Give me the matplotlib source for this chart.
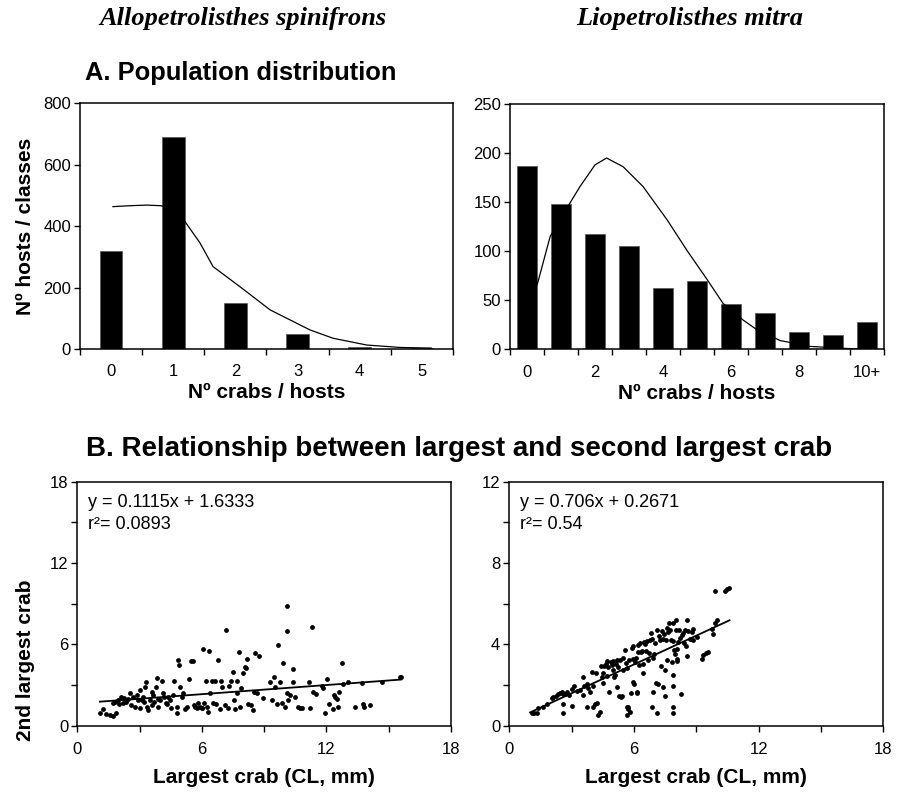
import matplotlib
matplotlib.use('Agg')
import matplotlib.pyplot as plt
import numpy as np

plt.rcParams['font.family'] = ['Liberation Sans', 'DejaVu Sans']

# ---- A. population distribution ----
allo_classes = ['0', '1', '2', '3', '4', '5']
allo_counts = [320, 690, 150, 50, 8, 3]
allo_fit_x = [0.03, 0.3, 0.58, 0.8, 1.0, 1.19, 1.43, 1.64, 2.07, 2.56, 3.2, 3.57, 4.11, 4.65, 5.15]
allo_fit_y = [463, 466, 468, 466, 455, 414, 345, 268, 203, 127, 62, 35, 13, 5, 3]

lio_classes = ['0', '1', '2', '3', '4', '5', '6', '7', '8', '9', '10+']
lio_counts = [187, 148, 118, 105, 63, 70, 46, 37, 18, 15, 28]
lio_fit_x = [0.0, 0.3, 0.68, 1.26, 1.56, 2.0, 2.34, 2.83, 3.41, 4.12, 4.7, 5.3, 5.76, 6.35, 6.76, 7.44, 8.3, 9.6, 10.0]
lio_fit_y = [55, 66, 115, 149, 166, 188, 195, 186, 166, 132, 101, 71, 47, 30, 20, 9, 3, 0.5, 0.3]

# ---- B. largest vs 2nd largest crab ----
allo_largest = [1.09, 1.25, 1.38, 1.57, 1.73, 1.86, 1.73, 1.81, 1.97, 2.09, 2.18, 2.25, 2.34, 2.46, 2.54,
                2.70, 2.86, 2.94, 3.02, 3.18, 3.21, 3.26, 3.31, 3.34, 3.42, 3.50, 3.58, 3.66, 3.69, 3.79,
                3.82, 3.90, 3.98, 4.06, 4.11, 4.17, 4.27, 4.38, 4.46, 4.62, 4.66, 4.78, 4.82, 4.87, 4.88,
                4.95, 5.03, 5.11, 5.27, 5.39, 5.46, 5.59, 5.67, 5.75, 5.83, 5.91, 5.99, 6.04, 6.10, 6.20,
                6.26, 6.31, 6.36, 6.39, 6.47, 6.55, 6.63, 6.78, 6.87, 6.90, 6.95, 7.16, 7.27, 7.39, 7.51,
                7.55, 7.59, 7.67, 7.71, 7.77, 7.84, 7.87, 8.00, 8.08, 8.12, 8.16, 8.24, 8.35, 8.45, 8.51,
                8.56, 8.64, 8.77, 8.96, 9.28, 9.36, 9.47, 9.52, 9.63, 9.68, 9.76, 9.84, 9.89, 10.00, 10.08,
                10.08, 10.12, 10.16, 10.24, 10.37, 10.40, 10.48, 10.65, 10.73, 10.81, 11.18, 11.21, 11.29,
                11.37, 11.50, 11.77, 11.85, 11.93, 12.01, 12.14, 12.30, 12.36, 12.41, 12.49, 12.57, 12.62,
                12.73, 12.81, 13.05, 13.37, 13.70, 13.74, 13.81, 14.10, 14.66, 15.54, 15.57,
                2.6, 3.0, 3.6, 4.3, 5.6, 6.0, 6.7, 7.1, 7.3, 3.1, 3.9, 4.5, 5.2, 2.0, 2.8]
allo_second = [0.91, 1.23, 0.84, 0.79, 0.74, 0.91, 1.65, 1.77, 1.89, 2.14, 1.65, 2.01, 1.77, 1.94, 2.38,
               2.14, 2.26, 1.89, 2.63, 2.14, 1.77, 2.87, 3.24, 1.40, 1.15, 1.89, 2.51, 2.26, 1.77, 2.87,
               3.49, 1.40, 1.89, 3.32, 2.38, 2.14, 1.65, 2.14, 1.89, 2.26, 3.32, 0.91, 1.40, 4.84, 4.50,
               2.87, 2.14, 2.38, 1.40, 3.44, 4.79, 4.79, 1.40, 1.28, 1.65, 1.40, 1.28, 5.63, 1.65, 3.32,
               1.40, 1.03, 5.53, 2.38, 3.32, 1.65, 3.32, 4.84, 1.20, 3.32, 2.87, 7.03, 1.28, 3.32, 3.98,
               1.89, 1.20, 2.38, 3.32, 5.43, 1.40, 2.75, 3.86, 4.35, 4.23, 4.94, 1.60, 1.55, 1.15, 2.51,
               5.33, 2.38, 5.14, 2.01, 3.24, 1.89, 3.56, 2.87, 1.60, 5.92, 3.24, 1.65, 4.64, 1.40, 8.82,
               6.98, 2.38, 1.89, 2.26, 4.15, 3.24, 2.14, 1.35, 1.28, 1.28, 3.24, 1.28, 7.30,
               2.51, 2.33, 2.92, 2.75, 0.91, 3.42, 1.60, 1.20, 2.26, 2.14, 1.94, 1.40, 2.51,
               4.64, 3.05, 3.24, 1.40, 3.12, 1.60, 1.40, 1.52, 3.24, 3.61, 3.56,
               1.5, 1.3, 1.5, 1.6, 1.5, 1.3, 1.6, 1.5, 2.9, 1.9, 2.0, 1.3, 1.2, 1.6, 1.4]
allo_line_x = [1.09, 15.6]
allo_line_y = [1.77, 3.40]

lio_largest = [1.07, 1.19, 1.35, 1.40, 1.60, 1.83, 2.04, 2.12, 2.25, 2.36, 2.44, 2.52, 2.60, 2.57, 2.60,
               2.68, 2.79, 2.89, 3.00, 3.00, 3.11, 3.27, 3.40, 3.53, 3.56, 3.59, 3.72, 3.75, 3.80, 3.88,
               3.96, 4.01, 4.04, 4.12, 4.17, 4.20, 4.28, 4.36, 4.40, 4.44, 4.49, 4.52, 4.56, 4.65, 4.68,
               4.72, 4.76, 4.81, 4.88, 4.93, 4.97, 5.01, 5.04, 5.09, 5.13, 5.17, 5.20, 5.25, 5.29, 5.33,
               5.36, 5.41, 5.45, 5.49, 5.57, 5.62, 5.65, 5.68, 5.68, 5.73, 5.73, 5.78, 5.81, 5.84, 5.89,
               5.94, 5.97, 5.97, 6.00, 6.05, 6.10, 6.13, 6.16, 6.21, 6.21, 6.26, 6.29, 6.32, 6.37, 6.42,
               6.45, 6.48, 6.53, 6.58, 6.61, 6.69, 6.74, 6.77, 6.80, 6.85, 6.85, 6.90, 6.93, 6.96, 7.01,
               7.06, 7.09, 7.12, 7.17, 7.22, 7.25, 7.28, 7.33, 7.38, 7.41, 7.44, 7.49, 7.49, 7.54, 7.57,
               7.60, 7.65, 7.70, 7.73, 7.77, 7.81, 7.86, 7.86, 7.89, 7.89, 7.89, 7.89, 7.93, 7.97, 8.02,
               8.02, 8.05, 8.05, 8.09, 8.13, 8.18, 8.21, 8.25, 8.29, 8.34, 8.41, 8.46, 8.50, 8.54, 8.57,
               8.62, 8.70, 8.78, 8.82, 8.86, 9.05, 9.26, 9.31, 9.47, 9.58, 9.74, 9.82, 9.90, 9.98, 9.90,
               10.38, 10.46, 10.59]
lio_second = [0.64, 0.64, 0.60, 0.85, 0.93, 1.06, 1.34, 1.39, 1.45, 1.55, 1.62, 1.65, 1.58, 1.06, 0.60,
              1.55, 1.67, 1.50, 1.78, 0.96, 1.94, 1.71, 1.75, 2.37, 1.50, 1.94, 2.07, 0.90, 1.83, 1.67,
              2.64, 0.93, 1.94, 1.06, 2.60, 1.09, 0.52, 0.69, 2.92, 2.40, 2.60, 2.11, 2.92, 3.02, 2.43,
              3.18, 2.89, 1.67, 3.13, 2.97, 2.73, 3.18, 2.40, 2.48, 3.02, 3.25, 1.91, 2.89, 1.45, 3.22,
              1.42, 1.45, 3.35, 2.73, 3.74, 3.09, 0.52, 0.93, 2.81, 0.93, 0.80, 3.22, 0.69, 1.62, 3.84,
              3.30, 3.90, 2.16, 2.07, 3.13, 3.35, 1.62, 1.67, 3.62, 3.95, 2.97, 4.07, 3.62, 3.67, 3.02,
              2.60, 4.11, 4.00, 3.67, 4.16, 3.22, 3.58, 4.23, 4.56, 4.28, 0.93, 1.67, 3.35, 3.51, 4.07,
              2.11, 0.64, 4.69, 2.04, 4.39, 4.20, 2.92, 4.65, 1.91, 4.28, 4.49, 1.45, 2.73, 4.23, 3.22,
              4.82, 4.60, 5.04, 4.72, 4.20, 3.13, 5.04, 2.48, 4.16, 1.94, 0.93, 0.64, 3.71, 3.54, 5.21,
              4.72, 3.30, 3.18, 3.79, 4.11, 4.72, 4.33, 1.55, 4.44, 4.56, 4.07, 4.72, 3.90, 5.18, 3.41,
              4.65, 4.28, 4.60, 4.20, 4.77, 4.36, 3.30, 3.46, 3.58, 3.62, 4.77, 4.52, 5.04, 5.18, 6.61,
              6.61, 6.71, 6.78]
lio_line_x = [1.0, 10.6]
lio_line_y = [0.65, 5.18]

fig = plt.figure(figsize=(9.04, 7.93), dpi=100)

ax1 = fig.add_axes([0.0885, 0.5599, 0.4126, 0.3102])
ax2 = fig.add_axes([0.5642, 0.5595, 0.4137, 0.3093])
ax3 = fig.add_axes([0.0855, 0.0849, 0.4134, 0.3079])
ax4 = fig.add_axes([0.5634, 0.0849, 0.4137, 0.3079])

TICK_FS = 12
LABEL_FS = 15


def style_axes(ax):
    for s in ax.spines.values():
        s.set_linewidth(1.1)
    ax.tick_params(which='both', direction='out', length=4, width=1.0, labelsize=TICK_FS, pad=2.5)


def bar_panel(ax, classes, counts, fx, fy, width, ymax, ystep, label_every):
    pos = np.arange(len(classes))
    ax.bar(pos, counts, width=width, color='black', edgecolor='#555555', linewidth=0.5)
    ax.plot(fx, fy, color='black', lw=0.9)
    ax.set_xlim(-0.5, len(classes) - 0.5)
    ax.set_ylim(0, ymax)
    ax.set_yticks(np.arange(0, ymax + 1, ystep))
    ax.set_xticks(np.arange(len(classes) + 1) - 0.5)
    ax.set_xticklabels([])
    ax.set_xticks(pos[::label_every], minor=True)
    ax.set_xticklabels(classes[::label_every], minor=True)
    style_axes(ax)
    ax.tick_params(axis='x', which='minor', length=0, pad=11)
    ax.set_xlabel('Nº crabs / hosts', fontsize=LABEL_FS, fontweight='bold', labelpad=3)


bar_panel(ax1, allo_classes, allo_counts, allo_fit_x, allo_fit_y, 0.365, 800, 200, 1)
bar_panel(ax2, lio_classes, lio_counts, lio_fit_x, lio_fit_y, 0.59, 250, 50, 2)


def scatter_panel(ax, xs, ys, lx, ly, ymax, ystep, eq, r2):
    ax.scatter(xs, ys, s=12, color='black', linewidths=0)
    ax.plot(lx, ly, color='black', lw=1.3)
    ax.set_xlim(0, 18)
    ax.set_ylim(0, ymax)
    ax.set_xticks([0, 6, 12, 18])
    ax.set_xticks([3, 9, 15], minor=True)
    ax.set_yticks(np.arange(0, ymax + 1, ystep))
    ax.set_yticks(np.arange(ystep / 2, ymax, ystep), minor=True)
    style_axes(ax)
    ax.tick_params(axis='x', which='major', pad=8)
    ax.set_xlabel('Largest crab (CL, mm)', fontsize=LABEL_FS, fontweight='bold', labelpad=8)
    ax.text(0.029, 0.915, eq, transform=ax.transAxes, fontsize=13, va='center')
    ax.text(0.029, 0.825, r2, transform=ax.transAxes, fontsize=13, va='center')


scatter_panel(ax3, allo_largest, allo_second, allo_line_x, allo_line_y, 18, 6,
              'y = 0.1115x + 1.6333', 'r²= 0.0893')
scatter_panel(ax4, lio_largest, lio_second, lio_line_x, lio_line_y, 12, 4,
              'y = 0.706x + 0.2671', 'r²= 0.54')

# titles and shared labels
fig.text(243 / 904, 1 - 18 / 793, 'Allopetrolisthes spinifrons', family='Liberation Serif',
         style='italic', fontweight='bold', fontsize=19, ha='center', va='center')
fig.text(690 / 904, 1 - 18 / 793, 'Liopetrolisthes mitra', family='Liberation Serif',
         style='italic', fontweight='bold', fontsize=19, ha='center', va='center')
fig.text(85 / 904, 1 - 73 / 793, 'A. Population distribution', fontsize=18.4,
         fontweight='bold', ha='left', va='center')
fig.text(86 / 904, 1 - 449 / 793, 'B. Relationship between largest and second largest crab',
         fontsize=20, fontweight='bold', ha='left', va='center')
fig.text(26 / 904, 1 - 226 / 793, 'Nº hosts / classes', fontsize=LABEL_FS, fontweight='bold',
         rotation=90, ha='center', va='center')
fig.text(26 / 904, 1 - 660 / 793, '2nd largest crab', fontsize=LABEL_FS, fontweight='bold',
         rotation=90, ha='center', va='center')

fig.savefig('out.png', dpi=100)
